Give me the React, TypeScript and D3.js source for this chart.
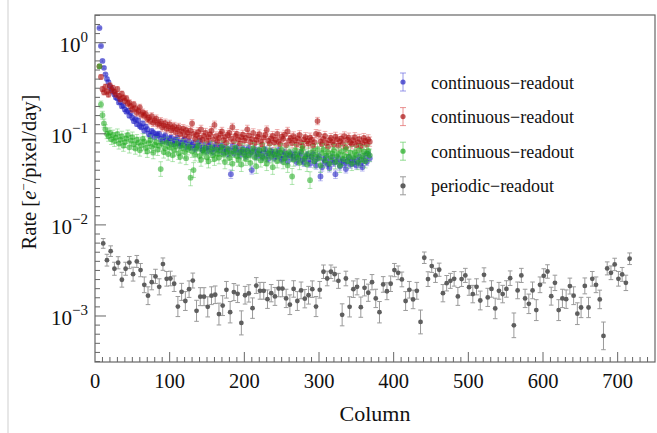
import React from "react";
import * as d3 from "d3";

// continuous-readout series (every 2nd column, 6..368)
const blueRate = [
  1.45, 0.92, 0.63, 0.53, 0.45, 0.40, 0.37, 0.33, 0.31, 0.29,
  0.27, 0.25, 0.245, 0.22, 0.225, 0.2, 0.205, 0.185, 0.175, 0.18,
  0.158, 0.17, 0.15, 0.138, 0.145, 0.128, 0.14, 0.122, 0.118, 0.13,
  0.108, 0.12, 0.112, 0.1, 0.095, 0.107, 0.103, 0.092, 0.099, 0.096,
  0.1, 0.088, 0.083, 0.092, 0.096, 0.085, 0.08, 0.089, 0.091, 0.082,
  0.077, 0.086, 0.09, 0.08, 0.074, 0.079, 0.084, 0.087, 0.072, 0.078,
  0.082, 0.071, 0.075, 0.079, 0.068, 0.072, 0.08, 0.083, 0.07, 0.066,
  0.075, 0.07, 0.064, 0.073, 0.078, 0.067, 0.063, 0.071, 0.076, 0.069,
  0.065, 0.072, 0.074, 0.062, 0.068, 0.07, 0.06, 0.066, 0.036, 0.073,
  0.061, 0.067, 0.071, 0.064, 0.058, 0.065, 0.069, 0.062, 0.057, 0.066,
  0.07, 0.06, 0.04, 0.064, 0.068, 0.056, 0.061, 0.066, 0.059, 0.055,
  0.063, 0.067, 0.058, 0.053, 0.06, 0.065, 0.062, 0.054, 0.057, 0.061,
  0.066, 0.056, 0.052, 0.059, 0.063, 0.055, 0.05, 0.058, 0.061, 0.054,
  0.057, 0.06, 0.049, 0.053, 0.058, 0.062, 0.051, 0.048, 0.055, 0.059,
  0.052, 0.047, 0.056, 0.06, 0.05, 0.045, 0.054, 0.057, 0.034, 0.043,
  0.053, 0.049, 0.055, 0.046, 0.042, 0.051, 0.056, 0.048, 0.036, 0.05,
  0.054, 0.044, 0.049, 0.052, 0.047, 0.041, 0.05, 0.055, 0.046, 0.051,
  0.048, 0.053, 0.045, 0.05, 0.056, 0.047, 0.043, 0.052, 0.058, 0.049,
  0.06, 0.054,
];

const redRate = [
  0.55, 0.42, 0.31, 0.285, 0.33, 0.29, 0.27, 0.34, 0.3, 0.32,
  0.29, 0.27, 0.31, 0.26, 0.24, 0.275, 0.25, 0.23, 0.245, 0.215,
  0.22, 0.2, 0.185, 0.21, 0.19, 0.17, 0.18, 0.195, 0.162, 0.172,
  0.158, 0.165, 0.145, 0.15, 0.138, 0.156, 0.132, 0.14, 0.147, 0.127,
  0.13, 0.137, 0.118, 0.124, 0.132, 0.113, 0.12, 0.128, 0.109, 0.116,
  0.121, 0.104, 0.112, 0.118, 0.099, 0.107, 0.114, 0.096, 0.11, 0.103,
  0.093, 0.108, 0.13, 0.1, 0.088, 0.097, 0.105, 0.091, 0.112, 0.086,
  0.095, 0.103, 0.084, 0.092, 0.099, 0.108, 0.087, 0.125, 0.094, 0.082,
  0.09, 0.1, 0.106, 0.085, 0.093, 0.08, 0.097, 0.102, 0.088, 0.118,
  0.083, 0.095, 0.1, 0.087, 0.078, 0.092, 0.098, 0.084, 0.09, 0.112,
  0.096, 0.081, 0.088, 0.102, 0.079, 0.086, 0.093, 0.099, 0.082, 0.076,
  0.091, 0.097, 0.11, 0.084, 0.078, 0.089, 0.095, 0.08, 0.086, 0.1,
  0.082, 0.077, 0.093, 0.088, 0.098, 0.075, 0.106, 0.084, 0.09, 0.079,
  0.094, 0.085, 0.076, 0.089, 0.097, 0.08, 0.073, 0.087, 0.092, 0.083,
  0.078, 0.091, 0.086, 0.074, 0.081, 0.1, 0.138, 0.098, 0.082, 0.077,
  0.088, 0.095, 0.079, 0.072, 0.085, 0.09, 0.081, 0.076, 0.093, 0.087,
  0.074, 0.083, 0.089, 0.078, 0.094, 0.071, 0.086, 0.091, 0.08, 0.077,
  0.085, 0.092, 0.075, 0.081, 0.088, 0.073, 0.079, 0.09, 0.084, 0.076,
  0.087, 0.082,
];

const greenRate = [
  0.55, 0.21, 0.16, 0.13, 0.112, 0.1, 0.094, 0.103, 0.087, 0.097,
  0.083, 0.091, 0.1, 0.078, 0.086, 0.094, 0.074, 0.081, 0.089, 0.097,
  0.071, 0.084, 0.092, 0.077, 0.069, 0.086, 0.08, 0.066, 0.075, 0.088,
  0.082, 0.07, 0.064, 0.079, 0.085, 0.072, 0.062, 0.076, 0.081, 0.067,
  0.074, 0.041, 0.078, 0.063, 0.069, 0.08, 0.06, 0.071, 0.076, 0.058,
  0.066, 0.073, 0.078, 0.061, 0.056, 0.07, 0.075, 0.063, 0.054, 0.068,
  0.072, 0.033, 0.064, 0.04, 0.059, 0.069, 0.074, 0.057, 0.052, 0.066,
  0.062, 0.07, 0.055, 0.05, 0.064, 0.071, 0.058, 0.053, 0.067, 0.06,
  0.055, 0.066, 0.072, 0.059, 0.049, 0.063, 0.068, 0.054, 0.061, 0.047,
  0.064, 0.07, 0.057, 0.052, 0.062, 0.046, 0.067, 0.059, 0.053, 0.065,
  0.058, 0.048, 0.063, 0.069, 0.055, 0.044, 0.06, 0.066, 0.051, 0.057,
  0.068, 0.053, 0.047, 0.061, 0.065, 0.056, 0.043, 0.059, 0.064, 0.05,
  0.057, 0.062, 0.067, 0.049, 0.054, 0.06, 0.045, 0.063, 0.058, 0.034,
  0.052, 0.066, 0.059, 0.055, 0.048, 0.064, 0.069, 0.053, 0.057, 0.046,
  0.061, 0.031, 0.056, 0.065, 0.05, 0.059, 0.068, 0.054, 0.045, 0.062,
  0.067, 0.051, 0.058, 0.063, 0.047, 0.055, 0.061, 0.066, 0.049, 0.057,
  0.06, 0.045, 0.064, 0.053, 0.058, 0.068, 0.05, 0.056, 0.062, 0.047,
  0.055, 0.063, 0.059, 0.048, 0.066, 0.052, 0.057, 0.064, 0.05, 0.061,
  0.065, 0.058,
];

// periodic-readout (every 5th column, 11..716)
const grayRate = [
  0.00626, 0.0041, 0.00515, 0.0033, 0.00384, 0.0025, 0.0033, 0.00386, 0.00288, 0.00397,
  0.00319, 0.0022, 0.00167, 0.00235, 0.00272, 0.00209, 0.00371, 0.00256, 0.00258, 0.00226,
  0.00127, 0.00184, 0.00146, 0.00197, 0.00245, 0.00114, 0.00163, 0.00163, 0.00126, 0.00167,
  0.00171, 0.00105, 0.0013, 0.00194, 0.0011, 0.00183, 0.00175, 0.00084, 0.00169, 0.00177,
  0.00122, 0.00216, 0.00189, 0.00189, 0.00153, 0.00178, 0.00164, 0.002, 0.002, 0.00156,
  0.00133, 0.00198, 0.00146, 0.00191, 0.00155, 0.00169, 0.00197, 0.00127, 0.00194, 0.00306,
  0.00258, 0.00306, 0.00288, 0.00243, 0.00103, 0.00258, 0.00126, 0.00197, 0.00209, 0.00125,
  0.00204, 0.0018, 0.00235, 0.00156, 0.0011, 0.00222, 0.00187, 0.00226, 0.00319, 0.00298,
  0.00252, 0.00146, 0.00194, 0.00152, 0.00189, 0.00086, 0.00436, 0.00254, 0.00353, 0.00279,
  0.00322, 0.00178, 0.00229, 0.00243, 0.00256, 0.00164, 0.00254, 0.00279, 0.00207, 0.00174,
  0.00209, 0.00148, 0.00283, 0.0016, 0.00198, 0.00121, 0.00189, 0.00174, 0.00198, 0.0026,
  0.00079, 0.00191, 0.00279, 0.00156, 0.00136, 0.00191, 0.00116, 0.0022, 0.00276, 0.00308,
  0.00165, 0.00231, 0.00116, 0.00156, 0.00153, 0.00213, 0.00167, 0.00106, 0.00124, 0.00214,
  0.00124, 0.00256, 0.0022, 0.00152, 0.000605, 0.00333, 0.00298, 0.00368, 0.00256, 0.00286,
  0.00231, 0.00425,
];

const contColumns = d3.range(6, 369, 2);
const periodicColumns = d3.range(11, 717, 5);

const xTicks = [0, 100, 200, 300, 400, 500, 600, 700];
const yExponents = [0, -1, -2, -3];
const legendLabels = [
  "continuous\u2212readout",
  "continuous\u2212readout",
  "continuous\u2212readout",
  "periodic\u2212readout",
];

const series = [
  { values: blueRate, cols: contColumns, dot: "rgb(35,35,195)", bar: "rgb(110,110,225)", k: 4.5e-4, op: 0.6 },
  { values: redRate, cols: contColumns, dot: "rgb(170,15,15)", bar: "rgb(225,100,100)", k: 1.3e-3, op: 0.6 },
  { values: greenRate, cols: contColumns, dot: "rgb(30,170,30)", bar: "rgb(100,205,100)", k: 1.7e-3, op: 0.55 },
  { values: grayRate, cols: periodicColumns, dot: "#5e5e5e", bar: "#9a9a9a", k: 1.06e-4, op: 1 },
];

const W = 657;
const H = 433;
const font = "'Liberation Serif', 'DejaVu Serif', serif";

export default function App() {
  const left = 95, right = 655, top = 15, bottom = 362;
  const x = d3.scaleLinear().domain([0, 750]).range([left, right]);
  const y = d3.scaleLog().domain([Math.pow(10, -3.505), Math.pow(10, 0.304)]).range([bottom, top]);

  const [lo, hi] = y.domain().map(Math.log10);
  const yMinor = d3.range(Math.ceil(lo * 10), Math.floor(hi * 10) + 1).map((e) => e / 10);
  const xMinor = d3.range(10, 750, 10);

  return (
    <svg width={W} height={H} style={{ position: "fixed", left: 0, top: 0, background: "#fff" }} fontFamily={font}>
      <line x1={8} x2={8} y1={0} y2={H} stroke="#cfcfcf" strokeWidth={1} />

      {/* data */}
      {series.map((s, si) => (
        <g key={si}>
          {s.values.map((v, i) => {
            const cx = x(s.cols[i]);
            const r = Math.sqrt(v * s.k) / v;
            const y1 = y(v * (1 + r));
            const y2 = y(v / (1 + r));
            return (
              <g key={i} stroke={s.bar} strokeOpacity={si === 3 ? 1 : 0.5} strokeWidth={1}>
                <line x1={cx} x2={cx} y1={y1} y2={y2} />
                <line x1={cx - 2.3} x2={cx + 2.3} y1={y1} y2={y1} />
                <line x1={cx - 2.3} x2={cx + 2.3} y1={y2} y2={y2} />
              </g>
            );
          })}
          {s.values.map((v, i) => (
            <circle key={i} cx={x(s.cols[i])} cy={y(v)} r={si === 3 ? 2.4 : 2.9} fill={s.dot} fillOpacity={s.op} />
          ))}
        </g>
      ))}

      {/* frame */}
      <rect x={left} y={top} width={right - left} height={bottom - top} fill="none" stroke="#666" strokeWidth={1.2} />

      {/* y ticks */}
      {yMinor.map((e) => {
        const major = Math.abs(e - Math.round(e)) < 1e-6;
        const yy = y(Math.pow(10, e));
        return <line key={e} x1={left} x2={left + (major ? 11 : 5)} y1={yy} y2={yy} stroke="#666" strokeWidth={1} />;
      })}
      {yExponents.map((e) => (
        <text key={e} x={88} y={y(Math.pow(10, e)) + 9} textAnchor="end" fontSize={21} fill="#111">
          <tspan>10</tspan>
          <tspan dy={-10} fontSize={15}>{e === 0 ? "0" : "\u2212" + Math.abs(e)}</tspan>
        </text>
      ))}

      {/* x ticks */}
      {xMinor.map((c) => {
        const major = c % 100 === 0;
        return <line key={c} x1={x(c)} x2={x(c)} y1={bottom} y2={bottom - (major ? 10 : 5)} stroke="#666" strokeWidth={1} />;
      })}
      {xTicks.map((c) => (
        <text key={c} x={x(c)} y={388} textAnchor="middle" fontSize={20.5} fill="#111">{c}</text>
      ))}

      {/* axis titles */}
      <text x={375} y={421} textAnchor="middle" fontSize={22} fill="#111">Column</text>
      <text transform="translate(36,172) rotate(-90)" textAnchor="middle" fontSize={20.5} fill="#111">
        Rate [<tspan fontStyle="italic">e</tspan>
        <tspan dy={-8} fontSize={13}>{"\u2212"}</tspan>
        <tspan dy={8}>/pixel/day]</tspan>
      </text>

      {/* legend */}
      {legendLabels.map((label, i) => {
        const s = series[i];
        const ly = 82 + i * 34.6;
        return (
          <g key={i}>
            <g stroke={s.bar} strokeWidth={1} strokeOpacity={i === 3 ? 1 : 0.7}>
              <line x1={403} x2={403} y1={ly - 9} y2={ly + 9} />
              <line x1={400} x2={406} y1={ly - 9} y2={ly - 9} />
              <line x1={400} x2={406} y1={ly + 9} y2={ly + 9} />
            </g>
            <circle cx={403} cy={ly} r={2.6} fill={s.dot} fillOpacity={i === 3 ? 1 : 0.7} />
            <text x={431} y={ly + 6.5} fontSize={18} fill="#111">{label}</text>
          </g>
        );
      })}
    </svg>
  );
}
